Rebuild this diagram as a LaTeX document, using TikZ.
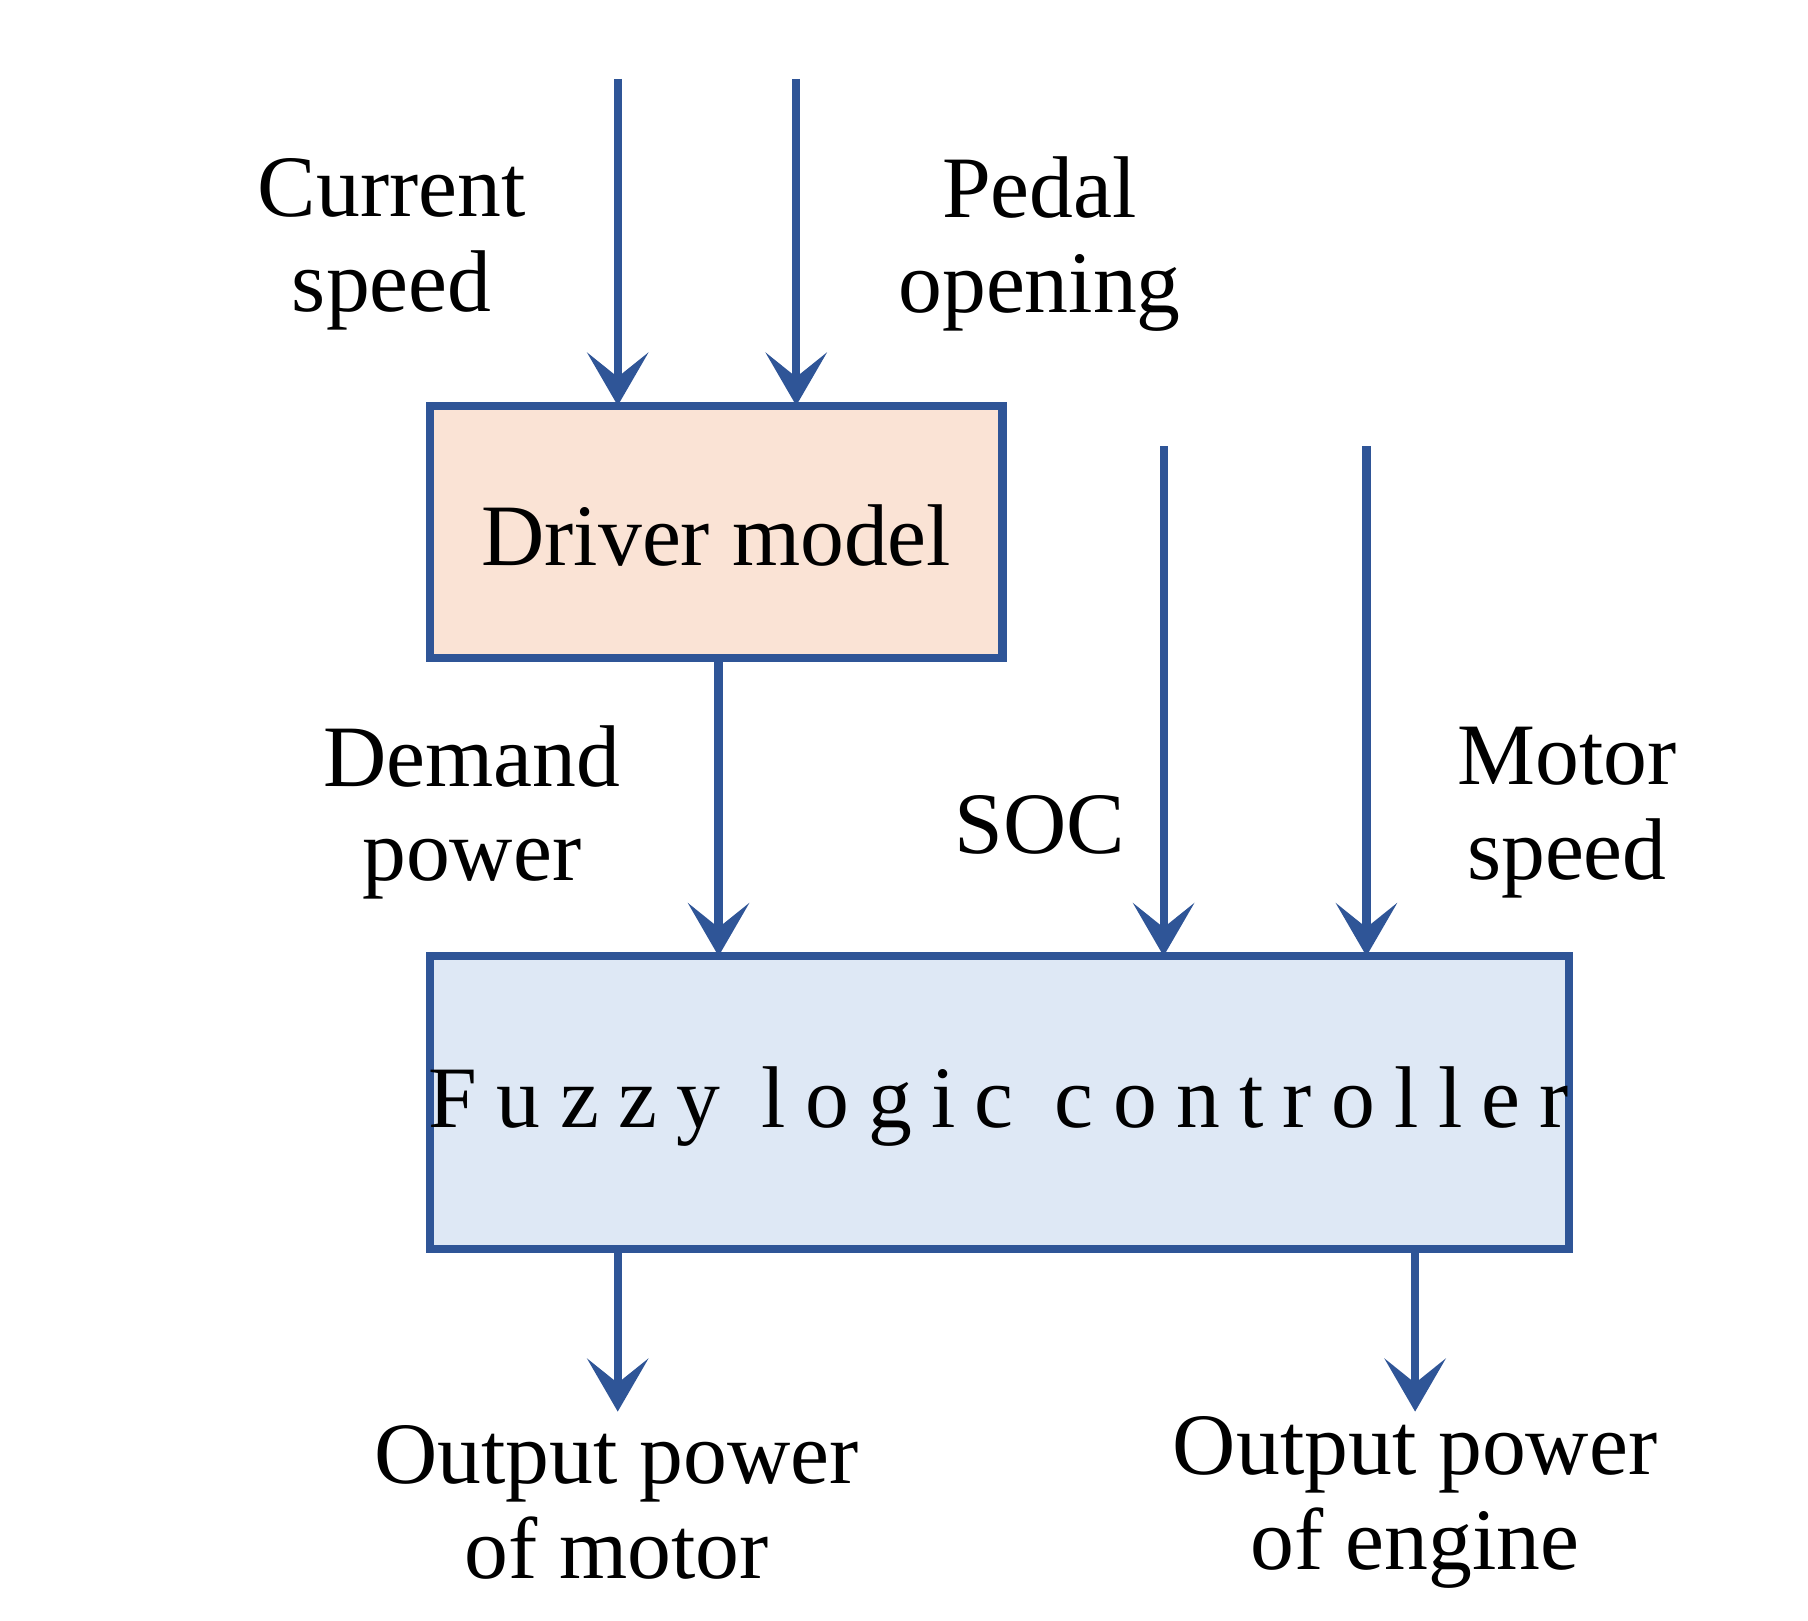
\documentclass[tikz,border=0pt]{standalone}
\usepackage{fontspec}
\setmainfont{Liberation Serif}
\newfontfamily\spaced[LetterSpace=22]{Liberation Serif}
\usetikzlibrary{arrows.meta}
\definecolor{lb}{HTML}{2F5597}
\definecolor{peach}{HTML}{FAE3D5}
\definecolor{pblue}{HTML}{DEE8F5}
\begin{document}
\begin{tikzpicture}[x=0.01cm,y=-0.01cm,
  box/.style={draw=lb,line width=2pt,inner sep=0},
  arr/.style={draw=lb,line width=2pt,-{Stealth[length=13pt,width=15pt,inset=6pt]}},
  lbl/.style={font=\fontsize{21.5}{23.3}\selectfont,align=center}]
\useasboundingbox (0,0) rectangle (1560,1398);
\draw[box,fill=peach] (371,350) rectangle (865,568);
\node[lbl] (drv) at (618,462) {Driver model};
\draw[box,fill=pblue] (371,825) rectangle (1354,1078);
\node[lbl] (flc) at (862,955) {\spaced Fuzzy logic controller};
\coordinate (a1) at (533,68); \coordinate (a1e) at (533,350);
\coordinate (a2) at (687,68); \coordinate (a2e) at (687,350);
\coordinate (a3) at (1004,385); \coordinate (a3e) at (1004,825);
\coordinate (a4) at (1179,385); \coordinate (a4e) at (1179,825);
\coordinate (a5) at (620,568); \coordinate (a5e) at (620,825);
\coordinate (o1) at (533,1078); \coordinate (o1e) at (533,1218);
\coordinate (o2) at (1221,1078); \coordinate (o2e) at (1221,1218);
\foreach \s/\e in {a1/a1e,a2/a2e,a3/a3e,a4/a4e,a5/a5e,o1/o1e,o2/o2e}
  \draw[arr] (\s) -- (\e);
\node[lbl] (cs) at (338,211) {Current\\speed};
\node[lbl] (po) at (897,211) {Pedal\\opening};
\node[lbl] (dp) at (407,701) {Demand\\power};
\node[lbl] (soc) at (897,712) {SOC};
\node[lbl] (ms) at (1352,701) {Motor\\speed};
\node[lbl] (om) at (532,1296) {Output power\\of motor};
\node[lbl] (oe) at (1221,1296) {Output power\\of engine};
\end{tikzpicture}
\end{document}
